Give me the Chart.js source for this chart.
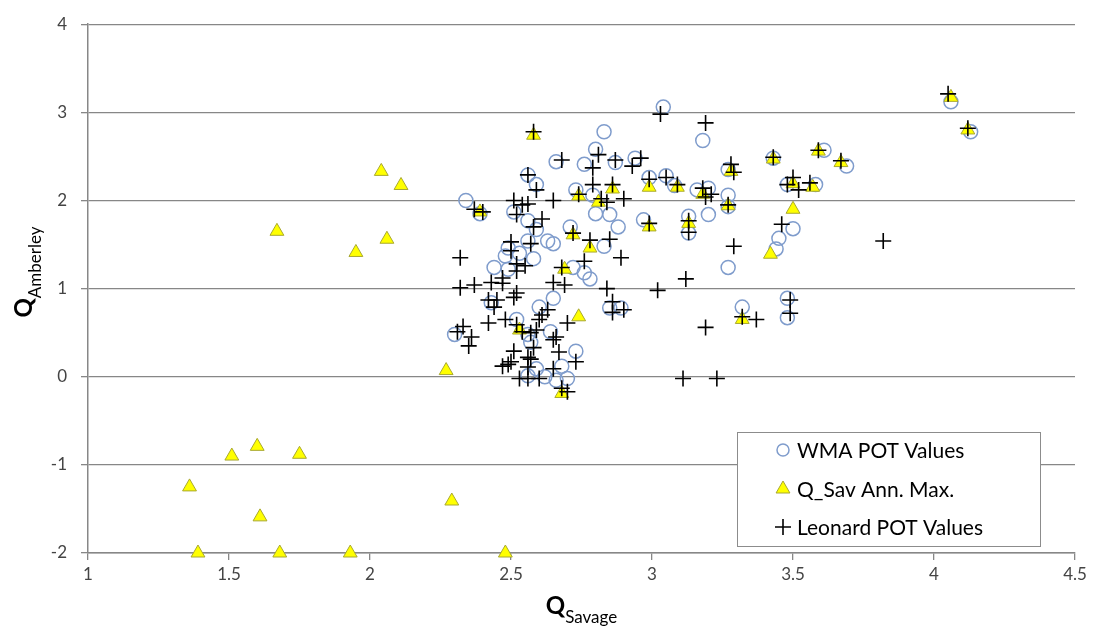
<!DOCTYPE html>
<html>
<head>
<meta charset="utf-8">
<script src="https://cdn.jsdelivr.net/npm/chart.js@4"></script>
<style>
  html, body { margin: 0; padding: 0; background: #fff; }
  #wrap { width: 1094px; height: 635px; position: relative; }
</style>
</head>
<body>
<div id="wrap"><canvas id="c" width="1094" height="635"></canvas></div>
<script>
// WMA POT values [Q_Savage, Q_Amberley]
const wmaPoints = [
  [4.06,3.12],[4.13,2.78],[3.04,3.06],[3.18,2.68],[2.83,2.78],[2.80,2.58],[2.66,2.44],[2.76,2.41],
  [2.87,2.43],[2.94,2.48],[2.56,2.29],[2.59,2.18],[2.73,2.12],[2.79,2.06],[2.99,2.26],[3.05,2.28],
  [3.08,2.17],[3.16,2.12],[3.20,2.14],[3.27,2.35],[3.27,2.06],[3.20,1.84],[3.27,1.93],[3.43,2.48],
  [3.61,2.57],[3.69,2.39],[3.48,2.18],[3.58,2.18],[3.50,1.68],[3.45,1.57],[3.44,1.45],[3.27,1.24],
  [3.32,0.79],[3.48,0.89],[3.48,0.67],[2.34,2.00],[2.39,1.85],[2.51,1.87],[2.56,1.77],[2.59,1.67],
  [2.63,1.54],[2.71,1.70],[2.80,1.85],[2.85,1.84],[2.88,1.70],[2.97,1.78],[3.13,1.82],[3.13,1.63],
  [2.83,1.48],[2.49,1.46],[2.56,1.54],[2.65,1.51],[2.48,1.37],[2.44,1.24],[2.53,1.40],[2.58,1.34],
  [2.72,1.24],[2.76,1.18],[2.78,1.11],[2.65,0.89],[2.60,0.79],[2.43,0.84],[2.30,0.48],[2.52,0.65],
  [2.56,0.48],[2.64,0.51],[2.57,0.39],[2.73,0.29],[2.68,0.12],[2.59,0.09],[2.62,0.00],[2.66,-0.04],
  [2.70,-0.02],[2.85,0.78],[2.89,0.78],[2.49,1.22],[2.56,0.01]
];

// Q_Sav annual maxima
const savPoints = [
  [1.36,-1.25],[1.39,-2.00],[1.51,-0.90],[1.60,-0.79],[1.61,-1.59],[1.68,-2.00],[1.75,-0.88],
  [1.67,1.65],[1.95,1.41],[2.04,2.33],[2.06,1.56],[2.11,2.17],[1.93,-2.00],[2.27,0.07],[2.29,-1.41],
  [2.48,-2.00],[2.39,1.87],[2.58,2.74],[2.74,2.05],[2.81,1.98],[2.86,2.13],[2.99,2.15],[3.09,2.15],
  [3.18,2.07],[3.27,1.94],[3.28,2.33],[3.43,2.47],[3.59,2.56],[3.67,2.43],[3.50,2.19],[3.57,2.15],
  [3.50,1.90],[3.42,1.39],[2.72,1.61],[2.78,1.46],[2.99,1.70],[3.13,1.74],[2.69,1.22],[2.74,0.68],
  [2.53,0.53],[3.32,0.65],[2.68,-0.19],[4.06,3.17],[4.12,2.80]
];

// Leonard POT values
const leoPoints = [
  [4.05,3.21],[4.12,2.82],[3.03,2.98],[3.19,2.88],[2.58,2.78],[2.68,2.46],[2.81,2.52],[2.87,2.46],
  [2.93,2.39],[2.96,2.48],[2.79,2.37],[3.28,2.41],[3.29,2.32],[3.43,2.49],[3.59,2.57],[3.67,2.45],
  [2.56,2.29],[2.79,2.18],[2.86,2.18],[2.99,2.24],[3.05,2.26],[3.09,2.18],[3.18,2.14],[3.21,2.07],
  [3.19,2.04],[3.27,1.95],[3.50,2.26],[3.48,2.18],[3.52,2.12],[3.56,2.20],[2.59,2.12],[2.74,2.07],
  [2.82,2.02],[2.84,1.98],[2.90,2.02],[2.65,2.00],[2.37,1.90],[2.40,1.87],[2.51,2.00],[2.54,1.95],
  [2.56,1.96],[2.52,1.84],[2.61,1.79],[2.58,1.70],[2.72,1.63],[2.78,1.55],[2.85,1.56],[2.99,1.74],
  [3.13,1.77],[3.13,1.64],[3.46,1.73],[3.29,1.48],[3.82,1.54],[2.50,1.53],[2.57,1.51],[2.32,1.35],
  [2.50,1.43],[2.52,1.28],[2.55,1.26],[2.52,1.20],[2.76,1.31],[2.68,1.24],[2.89,1.35],[2.32,1.01],
  [2.37,1.04],[2.43,1.07],[2.47,1.12],[2.47,1.06],[2.65,1.07],[2.69,1.04],[2.84,1.00],[3.02,0.98],
  [3.12,1.11],[2.42,0.87],[2.45,0.87],[2.44,0.79],[2.52,0.95],[2.51,0.90],[2.63,0.76],[2.61,0.70],
  [2.60,0.65],[2.86,0.85],[2.86,0.73],[2.90,0.76],[2.42,0.61],[2.48,0.65],[2.33,0.57],[2.31,0.51],
  [2.36,0.45],[2.35,0.35],[2.52,0.59],[2.54,0.51],[2.57,0.50],[2.59,0.53],[2.70,0.61],[2.65,0.42],
  [2.66,0.45],[3.19,0.56],[3.32,0.68],[3.37,0.65],[3.49,0.87],[3.49,0.72],[2.51,0.29],[2.58,0.33],
  [2.56,0.22],[2.57,0.20],[2.67,0.28],[2.73,0.17],[2.47,0.12],[2.49,0.14],[2.50,0.17],[2.56,0.11],
  [2.65,0.09],[2.53,-0.02],[2.56,-0.02],[2.60,-0.02],[2.68,-0.13],[2.70,-0.17],[3.11,-0.02],[3.23,-0.02]
];

const xTicks = [1, 1.5, 2, 2.5, 3, 3.5, 4, 4.5];
const yTicks = [-2, -1, 0, 1, 2, 3, 4];
const seriesNames = ['WMA POT Values', 'Q_Sav Ann. Max.', 'Leonard POT Values'];

const FONT = 'Lato, "Open Sans", sans-serif';
const gridGray = '#878787';

function toXY(list) {
  return list.map(p => ({x: p[0], y: p[1]}));
}

const wmaStyle = {pointStyle: 'circle', radius: 7, borderWidth: 1.5, borderColor: '#7f9ccc', backgroundColor: 'rgba(0,0,0,0)'};
const savStyle = {pointStyle: 'triangle', radius: 8, borderWidth: 1, borderColor: '#a8a830', backgroundColor: '#ffff00'};
const leoStyle = {pointStyle: 'cross', radius: 8, borderWidth: 1.6, borderColor: '#000000', backgroundColor: '#000000'};

// titles with subscripts + legend box, drawn on the canvas
const extras = {
  id: 'extras',
  afterDraw(chart) {
    const ctx = chart.ctx;
    const area = chart.chartArea;
    ctx.save();
    ctx.fillStyle = '#000';
    ctx.textBaseline = 'alphabetic';
    ctx.textAlign = 'left';

    // x title
    ctx.font = 'bold 24px ' + FONT;
    const qw = ctx.measureText('Q').width;
    ctx.font = '17px ' + FONT;
    const sw = ctx.measureText('Savage').width;
    const x0 = (area.left + area.right) / 2 - (qw + sw) / 2;
    ctx.font = 'bold 24px ' + FONT;
    ctx.fillText('Q', x0, 614);
    ctx.font = '17px ' + FONT;
    ctx.fillText('Savage', x0 + qw, 623);

    // y title (rotated)
    ctx.translate(32, 272);
    ctx.rotate(-Math.PI / 2);
    ctx.font = '17px ' + FONT;
    const aw = ctx.measureText('Amberley').width;
    const y0 = -(qw + aw) / 2;
    ctx.font = 'bold 24px ' + FONT;
    ctx.fillText('Q', y0, 0);
    ctx.font = '17px ' + FONT;
    ctx.fillText('Amberley', y0 + qw, 9);
    ctx.restore();

    // legend
    ctx.save();
    const bx = 737, by = 432, bw = 303, bh = 114;
    ctx.fillStyle = '#fff';
    ctx.fillRect(bx, by, bw, bh);
    ctx.strokeStyle = '#8c8c8c';
    ctx.lineWidth = 1;
    ctx.strokeRect(bx + 0.5, by + 0.5, bw, bh);
    const styles = [wmaStyle, savStyle, leoStyle];
    const rows = [450, 489, 527];
    ctx.font = '21px ' + FONT;
    ctx.textBaseline = 'middle';
    ctx.textAlign = 'left';
    styles.forEach((st, i) => {
      ctx.fillStyle = st.backgroundColor;
      ctx.strokeStyle = st.borderColor;
      ctx.lineWidth = st.borderWidth;
      Chart.helpers.drawPoint(ctx, {pointStyle: st.pointStyle, radius: i === 0 ? 6 : 8, rotation: 0, borderWidth: st.borderWidth}, 783, rows[i]);
      ctx.fillStyle = '#000';
      ctx.fillText(seriesNames[i], 797, rows[i] + 1);
    });
    ctx.restore();
  }
};

new Chart(document.getElementById('c'), {
  type: 'scatter',
  data: {
    datasets: [
      Object.assign({label: seriesNames[2], data: toXY(leoPoints), order: 0, clip: false}, {
        pointStyle: leoStyle.pointStyle, pointRadius: leoStyle.radius, pointBorderWidth: leoStyle.borderWidth,
        pointBorderColor: leoStyle.borderColor, pointBackgroundColor: leoStyle.backgroundColor
      }),
      Object.assign({label: seriesNames[1], data: toXY(savPoints), order: 1, clip: false}, {
        pointStyle: savStyle.pointStyle, pointRadius: savStyle.radius, pointBorderWidth: savStyle.borderWidth,
        pointBorderColor: savStyle.borderColor, pointBackgroundColor: savStyle.backgroundColor
      }),
      Object.assign({label: seriesNames[0], data: toXY(wmaPoints), order: 2, clip: false}, {
        pointStyle: wmaStyle.pointStyle, pointRadius: wmaStyle.radius, pointBorderWidth: wmaStyle.borderWidth,
        pointBorderColor: wmaStyle.borderColor, pointBackgroundColor: wmaStyle.backgroundColor
      })
    ]
  },
  options: {
    responsive: false,
    animation: false,
    layout: {padding: {top: 14, right: 19, bottom: 0, left: 0}},
    plugins: {legend: {display: false}, tooltip: {enabled: false}},
    scales: {
      x: {
        type: 'linear',
        min: xTicks[0], max: xTicks[xTicks.length - 1],
        afterBuildTicks: axis => { axis.ticks = xTicks.map(v => ({value: v})); },
        afterFit: axis => { axis.height = 82; },
        grid: {drawOnChartArea: false, drawTicks: true, tickLength: 7, color: gridGray, lineWidth: 1.3},
        border: {color: gridGray, width: 1.5},
        ticks: {color: '#444', font: {family: FONT, size: 17}, padding: 4, maxRotation: 0, autoSkip: false,
                callback: v => String(v)}
      },
      y: {
        type: 'linear',
        min: yTicks[0], max: yTicks[yTicks.length - 1],
        afterBuildTicks: axis => { axis.ticks = yTicks.map(v => ({value: v})); },
        afterFit: axis => { axis.width = 88; },
        grid: {drawTicks: true, tickLength: 7, color: gridGray, lineWidth: 1.3},
        border: {color: gridGray, width: 1.5},
        ticks: {color: '#444', font: {family: FONT, size: 17}, padding: 14, callback: v => String(v)}
      }
    }
  },
  plugins: [extras]
});
</script>
</body>
</html>
